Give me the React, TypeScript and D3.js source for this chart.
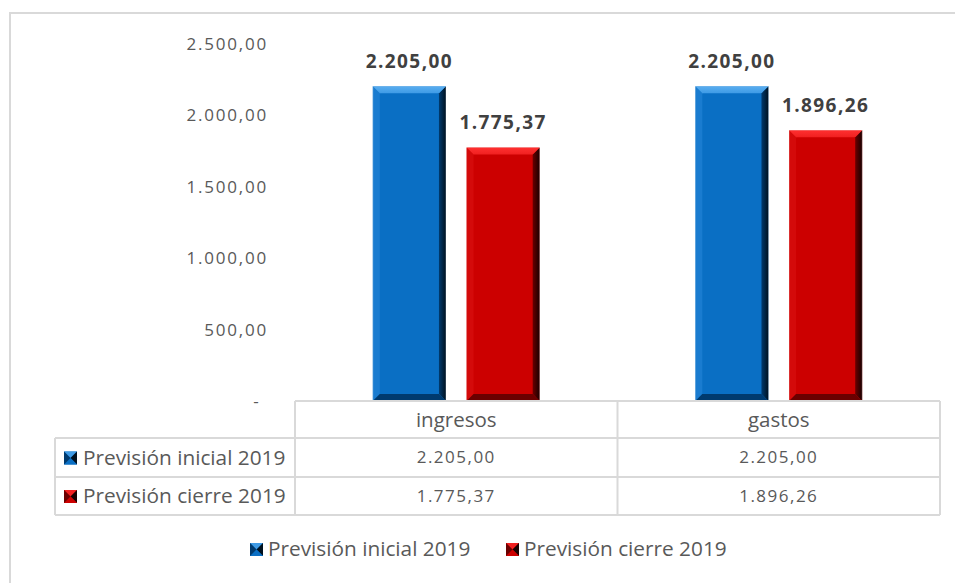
import React from "react";
import * as d3 from "d3";

const categories = ["ingresos", "gastos"];
const seriesNames = ["Previsión inicial 2019", "Previsión cierre 2019"];
const inicialValues = [2205.0, 2205.0];
const cierreValues = [1775.37, 1896.26];
const yTicks = [0, 500, 1000, 1500, 2000, 2500];

const W = 955;
const H = 583;
const FONT = "'Open Sans', Lato, sans-serif";

const fmt = (v: number) => {
  if (v === 0) return "-";
  const fixed = v.toFixed(2);
  const [intPart, dec] = fixed.split(".");
  const withDots = intPart.replace(/\B(?=(\d{3})+(?!\d))/g, ".");
  return `${withDots},${dec}`;
};

const palettes = [
  { base: "#0a6fc4", light: "#3f9be6", lighter: "#5aaef0", dark: "#003a6e", darkest: "#00111f", left: "#1a7cd0" },
  { base: "#cc0000", light: "#f02020", lighter: "#ff3030", dark: "#6a0000", darkest: "#1a0000", left: "#d40a0a" },
];

function BevelBar({ x, y, w, h, p, id }: { x: number; y: number; w: number; h: number; p: any; id: string }) {
  const b = Math.min(7, h / 3);
  return (
    <g>
      <defs>
        <linearGradient id={`r${id}`} x1="0" x2="1" y1="0" y2="0">
          <stop offset="0" stopColor={p.dark} />
          <stop offset="1" stopColor={p.darkest} />
        </linearGradient>
        <linearGradient id={`t${id}`} x1="0" x2="0" y1="0" y2="1">
          <stop offset="0" stopColor={p.lighter} />
          <stop offset="1" stopColor={p.light} />
        </linearGradient>
      </defs>
      <rect x={x} y={y} width={w} height={h} fill={p.base} />
      <polygon points={`${x},${y} ${x + b},${y + b} ${x + b},${y + h - b} ${x},${y + h}`} fill={p.left} />
      <polygon points={`${x + w},${y} ${x + w - b},${y + b} ${x + w - b},${y + h - b} ${x + w},${y + h}`} fill={`url(#r${id})`} />
      <polygon points={`${x},${y} ${x + w},${y} ${x + w - b},${y + b} ${x + b},${y + b}`} fill={`url(#t${id})`} />
      <polygon points={`${x},${y + h} ${x + w},${y + h} ${x + w - b},${y + h - b} ${x + b},${y + h - b}`} fill={p.dark} />
      <rect x={x} y={y} width={w} height={h} fill="none" stroke="#ffffff" strokeOpacity={0.35} strokeWidth={0.8} />
    </g>
  );
}

function Icon({ x, y, s, p }: { x: number; y: number; s: number; p: any }) {
  const c = s / 2;
  return (
    <g>
      <rect x={x} y={y} width={s} height={s} fill={p.base} />
      <polygon points={`${x},${y} ${x + s},${y} ${x + c},${y + c}`} fill={p.light} />
      <polygon points={`${x + s},${y} ${x + s},${y + s} ${x + c},${y + c}`} fill={p.darkest} />
      <polygon points={`${x},${y + s} ${x + s},${y + s} ${x + c},${y + c}`} fill={p.base} />
      <polygon points={`${x},${y} ${x},${y + s} ${x + c},${y + c}`} fill={p.dark} />
    </g>
  );
}

export default function App() {
  const plotLeft = 295;
  const plotRight = 940;
  const y = d3.scaleLinear().domain([0, 2500]).range([401, 44]);
  const x0 = d3.scaleBand<string>().domain(categories).range([plotLeft, plotRight]).paddingInner(0).paddingOuter(0);
  const x1 = d3
    .scaleBand<string>()
    .domain(seriesNames)
    .range([0, x0.bandwidth()])
    .paddingInner(0.22)
    .paddingOuter(0.83);
  const seriesValues = [inicialValues, cierreValues];

  const rowYs = [401, 438, 477, 515];
  const tableLeft = 55;
  const grid = "#d9d9d9";

  return (
    <svg width={W} height={H} style={{ position: "absolute", left: 0, top: 0, background: "#fff" }} fontFamily={FONT}>
      <rect x={10} y={13} width={980} height={620} fill="none" stroke={grid} strokeWidth={2} />

      {yTicks.map((t) => (
        <text key={t} x={t === 0 ? 256 : 268} y={y(t)} dy="0.35em" textAnchor={t === 0 ? "middle" : "end"} fontSize={17} letterSpacing={t === 0 ? 0 : 1.8} fill="#595959">
          {fmt(t)}
        </text>
      ))}

      {categories.map((c, ci) =>
        seriesNames.map((s, si) => {
          const v = seriesValues[si][ci];
          const bx = (x0(c) as number) + (x1(s) as number);
          const bw = x1.bandwidth();
          const by = y(v);
          const bh = y(0) - by;
          return (
            <g key={c + s}>
              <BevelBar x={bx} y={by} w={bw} h={bh} p={palettes[si]} id={`${ci}${si}`} />
              <text x={bx + bw / 2} y={by - 18} textAnchor="middle" fontSize={19} fontWeight="bold" letterSpacing={1.4} fill="#404040">
                {fmt(v)}
              </text>
            </g>
          );
        })
      )}

      {/* table */}
      <g stroke={grid} strokeWidth={2} fill="none">
        <line x1={plotLeft} x2={plotRight} y1={rowYs[0]} y2={rowYs[0]} />
        <line x1={tableLeft} x2={plotRight} y1={rowYs[1]} y2={rowYs[1]} />
        <line x1={tableLeft} x2={plotRight} y1={rowYs[2]} y2={rowYs[2]} />
        <line x1={tableLeft} x2={plotRight} y1={rowYs[3]} y2={rowYs[3]} />
        <line x1={tableLeft} x2={tableLeft} y1={rowYs[1]} y2={rowYs[3]} />
        <line x1={plotLeft} x2={plotLeft} y1={rowYs[0]} y2={rowYs[3]} />
        {categories.map((c) => (
          <line key={c} x1={(x0(c) as number) + x0.bandwidth()} x2={(x0(c) as number) + x0.bandwidth()} y1={rowYs[0]} y2={rowYs[3]} />
        ))}
      </g>
      {categories.map((c) => (
        <text key={c} x={(x0(c) as number) + x0.bandwidth() / 2} y={(rowYs[0] + rowYs[1]) / 2} dy="0.35em" textAnchor="middle" fontSize={20.5} fill="#595959">
          {c}
        </text>
      ))}
      {seriesNames.map((s, si) => {
        const cy = (rowYs[si + 1] + rowYs[si + 2]) / 2;
        return (
          <g key={s}>
            <Icon x={64} y={cy - 6} s={13} p={palettes[si]} />
            <text x={83} y={cy} dy="0.35em" fontSize={20.8} fill="#595959">
              {s}
            </text>
            {categories.map((c, ci) => (
              <text key={c} x={(x0(c) as number) + x0.bandwidth() / 2} y={cy} dy="0.35em" textAnchor="middle" fontSize={17} letterSpacing={1.5} fill="#595959">
                {fmt(seriesValues[si][ci])}
              </text>
            ))}
          </g>
        );
      })}

      {/* legend */}
      {seriesNames.map((s, si) => {
        const lx = si === 0 ? 250 : 506;
        return (
          <g key={s}>
            <Icon x={lx} y={543} s={13} p={palettes[si]} />
            <text x={lx + 18} y={549} dy="0.35em" fontSize={20.8} fill="#595959">
              {s}
            </text>
          </g>
        );
      })}
    </svg>
  );
}
